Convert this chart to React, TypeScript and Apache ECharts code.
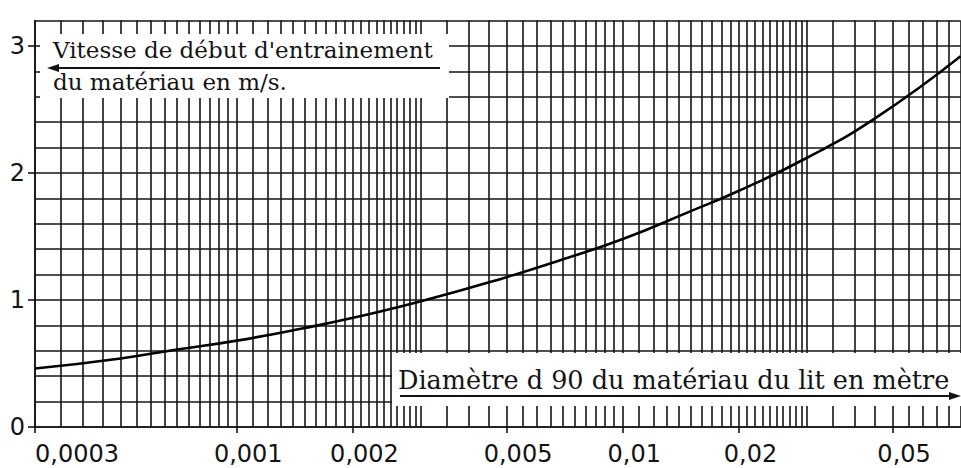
import React, { useEffect, useRef } from 'react';
import * as echarts from 'echarts';

// Axis ticks / labels
const X_TICKS = [0.0003, 0.001, 0.002, 0.005, 0.01, 0.02, 0.05];
const X_TICK_LABELS = ['0,0003', '0,001', '0,002', '0,005', '0,01', '0,02', '0,05'];
const Y_TICKS = [0, 1, 2, 3];

// Curve: grain diameter d90 (m) -> start-of-motion speed (m/s)
const DIAMETER_M = [0.0003, 0.0005, 0.0007, 0.001, 0.0015, 0.002, 0.003, 0.005, 0.007, 0.01, 0.015, 0.02, 0.03, 0.045, 0.075];
const SPEED_MS = [0.46, 0.54, 0.61, 0.68, 0.78, 0.86, 0.99, 1.18, 1.32, 1.48, 1.70, 1.86, 2.12, 2.43, 2.92];

// Log-paper rulings: [from, to, step]
const PAPER_BANDS: number[][] = [
  [0.0003, 0.001, 0.00005],
  [0.001, 0.003, 0.0001],
  [0.003, 0.01, 0.0005],
  [0.01, 0.03, 0.001],
  [0.03, 0.08, 0.005],
];

const Y_TITLE_LINES = ["Vitesse de début d'entrainement", 'du matériau en m/s.'];
const X_TITLE = 'Diamètre d 90 du matériau du lit en mètre';

const X_MIN = 0.0003;
const X_MAX = 0.075;
const Y_MIN = 0;
const Y_MAX = 3.2;

const INK = '#141414';
const SERIF = '"DejaVu Serif", serif';
const SANS = '"DejaVu Sans", sans-serif';
const NBSP3 = '\u00A0\u00A0\u00A0';

function paperLines(): number[] {
  const out: number[] = [];
  PAPER_BANDS.forEach(([a, b, s]) => {
    const n = Math.round((b - a) / s);
    for (let i = 0; i < n; i++) {
      const v = Number((a + i * s).toPrecision(6));
      if (v >= X_MIN && v <= X_MAX + 1e-9) out.push(v);
    }
  });
  return out;
}

function xLabel(v: number): string {
  for (let i = 0; i < X_TICKS.length; i++) {
    if (Math.abs(Math.log10(v) - Math.log10(X_TICKS[i])) < 0.01) {
      return i === 0 ? X_TICK_LABELS[i] : NBSP3 + X_TICK_LABELS[i];
    }
  }
  return '';
}

export default function App() {
  const ref = useRef<HTMLDivElement>(null);
  useEffect(() => {
    document.body.style.margin = '0';
    const chart = echarts.init(ref.current!, undefined, { renderer: 'svg' });
    const lineStyle = { color: INK, width: 1.6, type: 'solid' as const };
    chart.setOption({
      animation: false,
      backgroundColor: '#ffffff',
      grid: { left: 35, top: 20.6, width: 925.6, height: 406.4, containLabel: false, outerBoundsMode: 'none' },
      xAxis: {
        type: 'log',
        logBase: 10,
        min: X_MIN,
        max: X_MAX,
        splitLine: { show: false },
        minorSplitLine: { show: false },
        axisLine: { show: true, lineStyle },
        axisTick: { show: true, customValues: X_TICKS, length: 6, lineStyle },
        axisLabel: {
          show: true,
          customValues: X_TICKS,
          formatter: (v: number) => xLabel(v),
          color: INK,
          fontFamily: SANS,
          fontSize: 24,
          lineHeight: 22,
          margin: 16,
          alignMinLabel: 'left',
          hideOverlap: false,
        },
      },
      yAxis: [
        {
          type: 'value',
          min: Y_MIN,
          max: Y_MAX,
          interval: 0.2,
          axisLine: { show: true, lineStyle },
          axisTick: { show: false },
          axisLabel: { show: false },
          splitLine: { show: true, lineStyle },
        },
        {
          type: 'value',
          position: 'left',
          offset: 0,
          min: Y_MIN,
          max: Y_MAX,
          interval: 1,
          axisLine: { show: false },
          splitLine: { show: false },
          axisTick: { show: true, customValues: Y_TICKS, length: 7, lineStyle },
          axisLabel: {
            show: true,
            customValues: Y_TICKS,
            formatter: (v: number) => (Number.isInteger(v) ? String(v) : ''),
            color: INK,
            fontFamily: SANS,
            fontSize: 24,
            lineHeight: 18,
            margin: 10,
          },
        },
      ],
      series: [
        {
          type: 'line',
          name: 'vitesse',
          yAxisIndex: 0,
          data: DIAMETER_M.map((d, i) => [d, SPEED_MS[i]]),
          smooth: 0.5,
          symbol: 'none',
          lineStyle: { color: '#000', width: 2.6 },
          silent: true,
          z: 5,
          markLine: {
            silent: true,
            precision: 10,
            symbol: ['none', 'none'],
            label: { show: false },
            emphasis: { disabled: true },
            lineStyle,
            data: paperLines().map((v) => ({ xAxis: v })),
          },
        },
      ],
      graphic: [
        { type: 'rect', z: 100, shape: { x: 40, y: 34, width: 409, height: 64 }, style: { fill: '#fff' } },
        { type: 'rect', z: 100, shape: { x: 392, y: 353, width: 575, height: 53 }, style: { fill: '#fff' } },
        {
          type: 'text', z: 101, x: 53, y: 50,
          style: { text: Y_TITLE_LINES[0], fill: INK, font: `23px ${SERIF}`, verticalAlign: 'middle', align: 'left' },
        },
        {
          type: 'text', z: 101, x: 53, y: 82,
          style: { text: Y_TITLE_LINES[1], fill: INK, font: `23px ${SERIF}`, verticalAlign: 'middle', align: 'left' },
        },
        { type: 'line', z: 101, shape: { x1: 56, y1: 68, x2: 440, y2: 68 }, style: { stroke: INK, lineWidth: 2 } },
        { type: 'polygon', z: 101, shape: { points: [[47, 68], [59, 64], [59, 72]] }, style: { fill: INK } },
        {
          type: 'text', z: 101, x: 398, y: 380,
          style: { text: X_TITLE, fill: INK, font: `25.5px ${SERIF}`, verticalAlign: 'middle', align: 'left' },
        },
        { type: 'line', z: 101, shape: { x1: 400, y1: 396, x2: 950, y2: 396 }, style: { stroke: INK, lineWidth: 2 } },
        { type: 'polygon', z: 101, shape: { points: [[961, 396], [949, 392], [949, 400]] }, style: { fill: INK } },
      ],
    });
    return () => chart.dispose();
  }, []);
  return (
    <div
      ref={ref}
      style={{ position: 'absolute', left: 0, top: 0, width: 961, height: 468, background: '#fff' }}
    />
  );
}
